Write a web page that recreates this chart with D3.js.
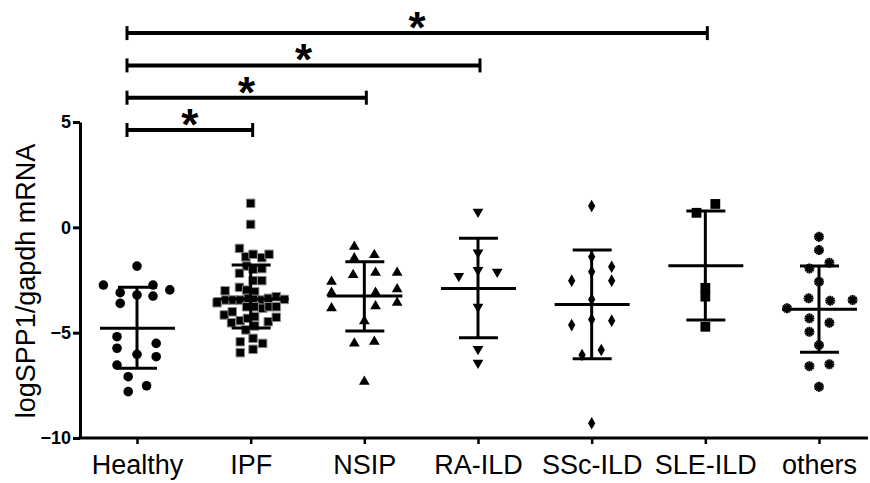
<!DOCTYPE html>
<html>
<head>
<meta charset="utf-8">
<script src="https://cdn.jsdelivr.net/npm/d3@7"></script>
<style>
  body { margin: 0; background: #fff; }
  text { font-family: "Liberation Sans", Arial, sans-serif; }
</style>
</head>
<body>
<svg width="870" height="483"></svg>
<script>
const categories = ['Healthy', 'IPF', 'NSIP', 'RA-ILD', 'SSc-ILD', 'SLE-ILD', 'others'];
const yTicks = [5, 0, -5, -10];

// values per group, jitter is the column slot the point sits in (1 slot ~ one marker)
const healthyValues = [-1.84, -2.74, -2.74, -2.97, -3.10, -3.21, -3.26, -3.61, -5.19, -5.74, -5.51, -6.03, -6.14, -6.54, -7.09, -7.52, -7.80];
const healthyJitter = [0, -4.2, 2, 4.1, -2.1, 0, 2, -2.1, -2.5, -2.5, 2.4, 0, 2.4, -2.5, -1.1, 1.2, -1.1];

const ipfValues = [1.14, 0.14, -1.00, -1.40, -1.28, -1.44, -1.28, -1.84, -1.99, -1.96, -2.18, -2.53, -2.53, -2.85, -3.01, -2.98, -3.06,
  -3.58, -3.45, -3.45, -3.45, -3.37, -3.42, -3.45, -3.37, -3.29, -3.42, -4.16, -4.01, -3.77, -3.77, -3.84, -3.77, -3.77,
  -4.53, -4.43, -4.32, -4.24, -4.68, -4.48, -4.27, -4.87, -5.43, -5.27, -5.51, -5.95, -5.79];
const ipfJitter = [0, 0, -1.4, -0.6, 0.3, 1.4, 2.3, -0.5, 0.3, 1.4, -1.4, 0.3, 1.4, -1.4, -3.2, -0.5, 0.5,
  -4.2, -3.1, -2.2, -1.3, -0.3, 0.5, 1.4, 2.2, 3.2, 4.2, -3.3, -2.3, -0.5, 0.5, 1.5, 2.3, 3.2,
  -2.4, -1.3, -0.4, 0.5, 0.5, 2.2, 3.2, -0.6, -1.3, 0.3, 1.5, -1.3, 0.3];

const nsipValues = [-0.92, -1.47, -1.31, -2.26, -2.15, -2.15, -2.58, -3.10, -3.10, -2.94, -3.58, -3.84, -3.74, -4.45, -5.51, -5.43, -7.33];
const nsipJitter = [-1.25, -1.25, 1.25, -1.4, 1.4, 4.1, -4.1, -4.1, 1.4, 4.1, 4.1, -4.1, 1.4, 0, -1.25, 1.25, 0];

const raValues = [0.74, -1.20, -2.03, -2.31, -2.11, -3.77, -5.78, -6.43];
const raJitter = [0, 0, 0, -2.4, 2.4, 0, 0, 0];

const sscValues = [1.01, -1.40, -1.87, -2.11, -2.53, -2.53, -3.42, -4.37, -4.64, -4.43, -5.82, -6.06, -9.30];
const sscJitter = [0, 0, 2.5, 0, -2.5, 2.5, 0, 0, -2.5, 2.5, 1.2, -1.2, 0];

const sleValues = [1.11, 0.69, -2.87, -3.29, -4.72];
const sleJitter = [1.25, -1.1, 0, 0, 0];

const othersValues = [-0.45, -1.08, -1.95, -1.68, -2.58, -3.37, -3.48, -3.45, -3.84, -4.32, -4.53, -4.96, -5.59, -6.59, -6.50, -7.57];
const othersJitter = [0, 0, -1.2, 1.3, 0, -1.3, 1.4, 4.2, -4, -1.2, 1.3, -1.2, 0, -1.2, 1.3, 0];

// mean and SD bars
const means   = [-4.79, -3.40, -3.26, -2.90, -3.66, -1.82, -3.89];
const sdUpper = [-2.85, -1.79, -1.63, -0.52, -1.08, 0.77, -1.84];
const sdLower = [-6.69, -4.78, -4.92, -5.24, -6.24, -4.40, -5.93];

// significance brackets against Healthy
const comparisons = ['IPF', 'NSIP', 'RA-ILD', 'SLE-ILD'];
const sigLabels = ['*', '*', '*', '*'];

const svg = d3.select('svg');
const width = +svg.attr('width');
const height = +svg.attr('height');

const margin = {top: 122, left: 80, right: 2, bottom: 45};
const axisY = height - margin.bottom;

const x = d3.scalePoint()
  .domain(categories)
  .range([137, 819]);

const y = d3.scaleLinear()
  .domain([-10, 5])
  .range([axisY, margin.top]);

const slot = 8;

const groups = [
  {values: healthyValues, jitter: healthyJitter, shape: 'circle'},
  {values: ipfValues, jitter: ipfJitter, shape: 'square'},
  {values: nsipValues, jitter: nsipJitter, shape: 'triangle'},
  {values: raValues, jitter: raJitter, shape: 'triangleDown'},
  {values: sscValues, jitter: sscJitter, shape: 'diamond'},
  {values: sleValues, jitter: sleJitter, shape: 'squareBig'},
  {values: othersValues, jitter: othersJitter, shape: 'star'}
];

const shapePath = {
  circle: d3.symbol(d3.symbolCircle, 72)(),
  square: d3.symbol(d3.symbolSquare, 72)(),
  triangle: d3.symbol(d3.symbolTriangle, 50)(),
  triangleDown: d3.symbol(d3.symbolTriangle, 50)(),
  diamond: d3.symbol(d3.symbolDiamond, 46)(),
  squareBig: d3.symbol(d3.symbolSquare, 96)(),
  star: d3.symbol(d3.symbolAsterisk, 70)()
};

// points
const pts = svg.append('g');
groups.forEach((grp, i) => {
  const cat = categories[i];
  const data = grp.values.map((v, k) => ({v: v, j: grp.jitter[k]}));
  const sel = pts.selectAll(null).data(data).enter()
    .append('g')
    .attr('transform', d => `translate(${x(cat) + d.j * slot},${y(d.v)})`);
  if (grp.shape === 'star') {
    sel.append('path').attr('d', shapePath.star)
      .attr('fill', 'none').attr('stroke', '#000').attr('stroke-width', 2.2);
    sel.append('circle').attr('r', 2.2).attr('fill', '#000');
    sel.append('path').attr('d', shapePath.star)
      .attr('transform', 'rotate(30)')
      .attr('fill', 'none').attr('stroke', '#000').attr('stroke-width', 1.6);
  } else {
    sel.append('path')
      .attr('d', shapePath[grp.shape])
      .attr('transform', grp.shape === 'triangleDown' ? 'rotate(180)' : null)
      .attr('fill', '#000')
      .attr('stroke', grp.shape === 'square' ? '#8a8a8a' : 'none')
      .attr('stroke-width', 1);
  }
});

// mean +/- SD
const bars = svg.append('g').attr('stroke', '#000').attr('stroke-width', 3);
bars.selectAll('.mean').data(categories).enter().append('line')
  .attr('x1', d => x(d) - 37).attr('x2', d => x(d) + 38)
  .attr('y1', (d, i) => y(means[i])).attr('y2', (d, i) => y(means[i]));
bars.selectAll('.vert').data(categories).enter().append('line')
  .attr('x1', d => x(d)).attr('x2', d => x(d))
  .attr('y1', (d, i) => y(sdUpper[i])).attr('y2', (d, i) => y(sdLower[i]));
bars.selectAll('.capU').data(categories).enter().append('line')
  .attr('x1', d => x(d) - 19).attr('x2', d => x(d) + 20)
  .attr('y1', (d, i) => y(sdUpper[i])).attr('y2', (d, i) => y(sdUpper[i]));
bars.selectAll('.capL').data(categories).enter().append('line')
  .attr('x1', d => x(d) - 19).attr('x2', d => x(d) + 20)
  .attr('y1', (d, i) => y(sdLower[i])).attr('y2', (d, i) => y(sdLower[i]));

// y axis
const yAxis = svg.append('g')
  .attr('transform', `translate(${margin.left},0)`)
  .call(d3.axisLeft(y).tickValues(yTicks).tickSize(7).tickSizeOuter(0).tickPadding(2));
yAxis.select('.domain').attr('stroke-width', 3);
yAxis.selectAll('.tick line').attr('stroke-width', 3);
yAxis.selectAll('.tick text')
  .attr('font-size', 18).attr('font-weight', 'bold')
  .attr('font-family', '"Liberation Sans", Arial, sans-serif').attr('fill', '#000');

// x axis
const xAxis = svg.append('g')
  .attr('transform', `translate(0,${axisY})`)
  .call(d3.axisBottom(x).tickSize(6).tickSizeOuter(0));
xAxis.select('.domain').remove();
xAxis.insert('line', ':first-child')
  .attr('x1', margin.left - 1.5).attr('x2', width - margin.right)
  .attr('stroke', '#000').attr('stroke-width', 3);
xAxis.selectAll('.tick line').attr('stroke-width', 2.5);
xAxis.selectAll('.tick text')
  .attr('y', 36).attr('dy', 0)
  .attr('font-size', 27)
  .attr('font-family', '"Liberation Sans", Arial, sans-serif').attr('fill', '#000');

// y title
svg.append('text')
  .attr('transform', 'rotate(-90)')
  .attr('x', -281)
  .attr('y', 35)
  .attr('text-anchor', 'middle')
  .attr('font-size', 27)
  .text('logSPP1/gapdh mRNA');

// significance brackets
const bracketBase = 130;
const bracketStep = 32.3;
const br = svg.append('g');
comparisons.forEach((c, i) => {
  const by = bracketBase - i * bracketStep;
  const x1 = x('Healthy') - 10;
  const x2 = x(c) + 2;
  const g = br.append('g').attr('stroke', '#000').attr('stroke-width', 4);
  g.append('line').attr('x1', x1).attr('x2', x2).attr('y1', by).attr('y2', by);
  g.append('line').attr('x1', x1).attr('x2', x1).attr('y1', by - 7).attr('y2', by + 7).attr('stroke-width', 3);
  g.append('line').attr('x1', x2).attr('x2', x2).attr('y1', by - 7).attr('y2', by + 7).attr('stroke-width', 3);
  br.append('text')
    .attr('x', (x1 + x2) / 2)
    .attr('y', by + 10)
    .attr('text-anchor', 'middle')
    .attr('font-size', 44)
    .attr('font-weight', 'bold')
    .text(sigLabels[i]);
});
</script>
</body>
</html>
